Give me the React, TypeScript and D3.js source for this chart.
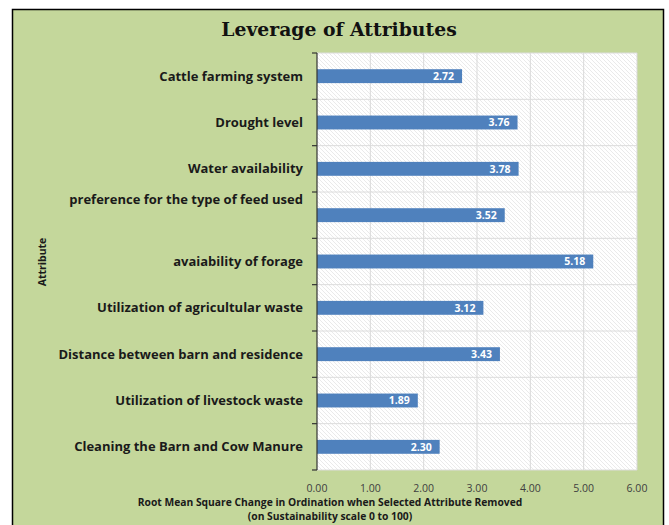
import React from "react";
import * as d3 from "d3";

const categories = [
  "Cattle farming system",
  "Drought level",
  "Water availability",
  "preference for the type of feed used",
  "avaiability of forage",
  "Utilization of agricultular waste",
  "Distance between barn and residence",
  "Utilization of livestock waste",
  "Cleaning the Barn and Cow Manure",
];
const values = [2.72, 3.76, 3.78, 3.52, 5.18, 3.12, 3.43, 1.89, 2.3];
const xTicks = [0, 1, 2, 3, 4, 5, 6];
const title = "Leverage of Attributes";
const xTitle1 = "Root Mean Square Change in Ordination when Selected Attribute Removed";
const xTitle2 = "(on Sustainability scale 0 to 100)";
const yTitle = "Attribute";

export default function App() {
  const W = 669, H = 525;
  const left = 317, right = 637, top = 53, bottom = 470;
  const x = d3.scaleLinear().domain([0, 6]).range([left, right]);
  const y = d3.scaleBand().domain(categories).range([top, bottom]).paddingInner(0.7).paddingOuter(0.35);
  const band = d3.scaleBand().domain(categories).range([top, bottom]);
  const font = "'Open Sans', sans-serif";
  const boundaries = d3.range(categories.length + 1).map((i) => top + (i * (bottom - top)) / categories.length);
  return (
    <svg width={W} height={H} style={{ position: "absolute", left: 0, top: 0, display: "block" }}>
      <defs>
        <pattern id="hatch" width="4" height="4" patternUnits="userSpaceOnUse">
          <rect width="4" height="4" fill="#ffffff" />
          <path d="M-1,1 l2,-2 M0,4 l4,-4 M3,5 l2,-2" stroke="#e4e4e4" strokeWidth="0.8" transform="scale(-1,1) translate(-4,0)" />
        </pattern>
      </defs>
      <rect x={0} y={0} width={W} height={H} fill="#ffffff" />
      <rect x={12.5} y={9.5} width={651} height={H} fill="#c4d79b" stroke="#000" strokeWidth={1.5} />
      <text x={339} y={36} textAnchor="middle" fontFamily="'DejaVu Serif', serif" fontWeight="bold" fontSize={18.8} fill="#111">
        {title}
      </text>
      <rect x={left} y={top} width={right - left} height={bottom - top} fill="url(#hatch)" />
      {xTicks.slice(1).map((t) => (
        <line key={t} x1={x(t)} x2={x(t)} y1={top} y2={bottom} stroke="#d9d9d9" strokeWidth={1} />
      ))}
      {boundaries.map((b, i) => (
        <line key={"h" + i} x1={left} x2={right} y1={b} y2={b} stroke="#dcdcdc" strokeWidth={1} />
      ))}
      {categories.map((c, i) => (
        <g key={c}>
          <rect x={x(0)} y={y(c)!} width={x(values[i]) - x(0)} height={y.bandwidth()} fill="#4f81bd" />
          <text
            x={x(values[i]) - 8}
            y={y(c)! + y.bandwidth() / 2}
            dy="0.35em"
            textAnchor="end"
            fontFamily={font}
            fontWeight="bold"
            fontSize={10.5}
            fill="#ffffff"
          >
            {values[i].toFixed(2)}
          </text>
          <text
            x={left - 14}
            y={band(c)! + band.bandwidth() / 2 - (c.startsWith("preference") ? 16 : 0)}
            dy="0.35em"
            textAnchor="end"
            fontFamily={font}
            fontWeight="bold"
            fontSize={13}
            fill="#1a1a1a"
          >
            {c}
          </text>
        </g>
      ))}
      <line x1={left} x2={left} y1={top} y2={bottom} stroke="#333" strokeWidth={1.2} />
      {boundaries.map((b, i) => (
        <line key={"t" + i} x1={left - 5} x2={left} y1={b} y2={b} stroke="#333" strokeWidth={1.2} />
      ))}
      {xTicks.map((t) => (
        <text key={"x" + t} x={x(t)} y={492} textAnchor="middle" fontFamily={font} fontSize={10.5} fill="#404040">
          {t.toFixed(2)}
        </text>
      ))}
      <text x={330} y={505.5} textAnchor="middle" fontFamily={font} fontWeight="bold" fontSize={10.3} fill="#1a1a1a">
        {xTitle1}
      </text>
      <text x={330} y={520} textAnchor="middle" fontFamily={font} fontWeight="bold" fontSize={10.3} fill="#1a1a1a">
        {xTitle2}
      </text>
      <text
        transform={`translate(46,262) rotate(-90)`}
        textAnchor="middle"
        fontFamily={font}
        fontWeight="bold"
        fontSize={10.5}
        fill="#1a1a1a"
      >
        {yTitle}
      </text>
    </svg>
  );
}
